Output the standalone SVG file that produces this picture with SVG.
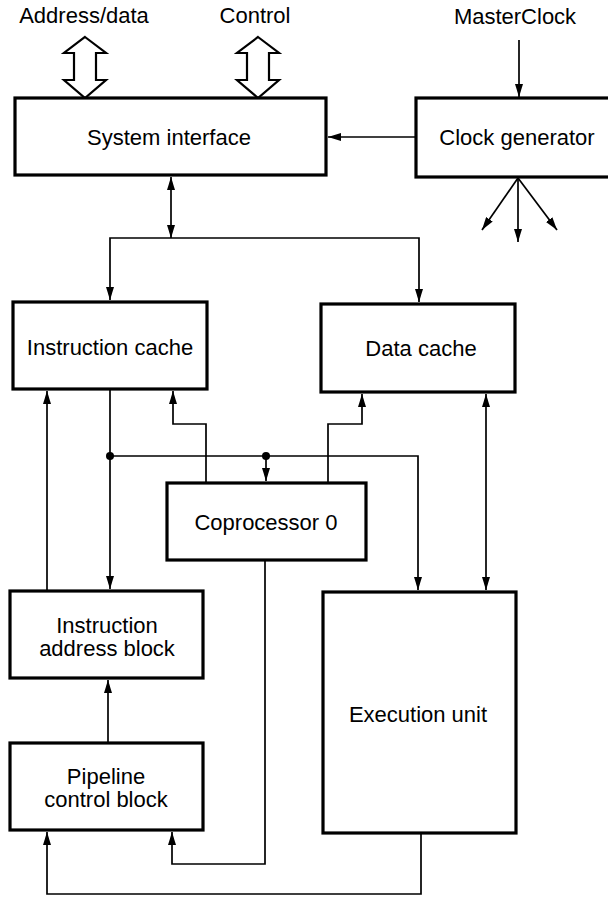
<svg xmlns="http://www.w3.org/2000/svg" width="608" height="897" viewBox="0 0 608 897">
<style>
.box{fill:#fff;stroke:#000;stroke-width:3.2}
.ln{fill:none;stroke:#000;stroke-width:1.7}
.hol{fill:#fff;stroke:#000;stroke-width:2.2;stroke-linejoin:miter}
text{font-family:"Liberation Sans",Arial,sans-serif;font-size:22px;fill:#000;text-anchor:middle}
</style>
<defs>
<marker id="ah" viewBox="0 0 13 8" refX="13" refY="4" markerWidth="13" markerHeight="8" markerUnits="userSpaceOnUse" orient="auto-start-reverse">
<path d="M0,0 L13,4 L0,8 Z" fill="#000"/>
</marker>
</defs>
<rect width="608" height="897" fill="#fff"/>
<g id="connectors">
<path class="hol" d="M85,37 L106,53 L96,53 L96,80 L106,80 L85,98 L64,80 L74,80 L74,53 L64,53 Z"/>
<path class="hol" d="M258,37 L279,53 L269,53 L269,80 L279,80 L258,98 L237,80 L247,80 L247,53 L237,53 Z"/>
<line class="ln" x1="519" y1="40" x2="519" y2="97" marker-end="url(#ah)"/>
<line class="ln" x1="416" y1="137" x2="328" y2="137" marker-end="url(#ah)"/>
<line class="ln" x1="518" y1="178" x2="482" y2="230" marker-end="url(#ah)"/>
<line class="ln" x1="518" y1="178" x2="518" y2="242" marker-end="url(#ah)"/>
<line class="ln" x1="518" y1="178" x2="557" y2="230" marker-end="url(#ah)"/>
<line class="ln" x1="171" y1="177" x2="171" y2="238" marker-start="url(#ah)" marker-end="url(#ah)"/>
<path class="ln" d="M110,300 L110,238 L419,238 L419,302" marker-start="url(#ah)" marker-end="url(#ah)"/>
<line class="ln" x1="47" y1="591" x2="47" y2="391" marker-end="url(#ah)"/>
<line class="ln" x1="110" y1="389" x2="110" y2="589" marker-end="url(#ah)"/>
<path class="ln" d="M206,483 L206,424 L173,424 L173,391" marker-end="url(#ah)"/>
<path class="ln" d="M328,483 L328,424 L362,424 L362,394" marker-end="url(#ah)"/>
<path class="ln" d="M110,456 L418,456 L418,590" marker-end="url(#ah)"/>
<line class="ln" x1="266" y1="456" x2="266" y2="481" marker-end="url(#ah)"/>
<line class="ln" x1="486" y1="394" x2="486" y2="590" marker-start="url(#ah)" marker-end="url(#ah)"/>
<line class="ln" x1="108" y1="743" x2="108" y2="680" marker-end="url(#ah)"/>
<path class="ln" d="M265,560 L265,864 L172,864 L172,832" marker-end="url(#ah)"/>
<path class="ln" d="M421,833 L421,894 L47,894 L47,832" marker-end="url(#ah)"/>
<circle cx="110" cy="456" r="4"/>
<circle cx="266" cy="456" r="4"/>
</g>
<g id="labels">
<text x="84" y="23">Address/data</text>
<text x="255" y="23">Control</text>
<text x="515" y="24">MasterClock</text>
</g>
<g id="system-interface">
<rect class="box" x="15" y="98" width="311" height="77"/>
<text x="169" y="145">System interface</text>
</g>
<g id="clock-generator">
<rect class="box" x="416" y="98" width="196" height="79"/>
<text x="517" y="145">Clock generator</text>
</g>
<g id="instruction-cache">
<rect class="box" x="13" y="302" width="194" height="87"/>
<text x="110" y="355">Instruction cache</text>
</g>
<g id="data-cache">
<rect class="box" x="321" y="304" width="194" height="88"/>
<text x="421" y="356">Data cache</text>
</g>
<g id="coprocessor-0">
<rect class="box" x="167" y="483" width="199" height="77"/>
<text x="266" y="530">Coprocessor 0</text>
</g>
<g id="instruction-address-block">
<rect class="box" x="10" y="591" width="193" height="87"/>
<text x="107" y="633">Instruction</text>
<text x="107" y="656">address block</text>
</g>
<g id="pipeline-control-block">
<rect class="box" x="10" y="743" width="193" height="87"/>
<text x="106" y="784">Pipeline</text>
<text x="106" y="807">control block</text>
</g>
<g id="execution-unit">
<rect class="box" x="323" y="592" width="193" height="241"/>
<text x="418" y="722">Execution unit</text>
</g>
</svg>
